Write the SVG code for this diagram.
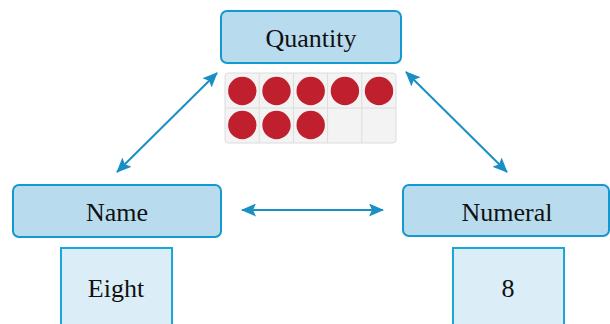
<svg xmlns="http://www.w3.org/2000/svg" width="610" height="324" viewBox="0 0 610 324">
<style>
.hdr{fill:#b8dcee;stroke:#1399cf;stroke-width:2}
.val{fill:#dbeef8;stroke:#1aa6d8;stroke-width:2}
.t{font-family:"Liberation Serif","Times New Roman",serif;font-size:26px;fill:#111;text-anchor:middle}
.dot{fill:#c0202e}
.arr{stroke:#1a8fc4;stroke-width:2;fill:none;marker-start:url(#ah);marker-end:url(#ah)}
</style>
<defs>
<marker id="ah" viewBox="0 0 15 13" refX="14" refY="6.5" markerWidth="15" markerHeight="13" markerUnits="userSpaceOnUse" orient="auto-start-reverse">
<path d="M0,0 L15,6.5 L0,13 L3,6.5 Z" fill="#1a8fc4"/>
</marker>
</defs>
<g id="connectors">
<line class="arr" x1="117" y1="172" x2="217" y2="73"/>
<line class="arr" x1="406" y1="72" x2="507" y2="172"/>
<line class="arr" x1="242" y1="210" x2="383" y2="210"/>
</g>
<g id="quantity">
<rect class="hdr" x="221" y="11" width="180" height="52" rx="6"/>
<text class="t" x="311" y="47">Quantity</text>
</g>
<g id="ten-frame">
<rect x="225" y="73" width="171" height="70" rx="3" fill="#f3f3f3" stroke="#dcdcdc"/>
<line x1="225" y1="108" x2="396" y2="108" stroke="#dcdcdc"/>
<line x1="259.2" y1="73" x2="259.2" y2="143" stroke="#dcdcdc"/>
<line x1="293.4" y1="73" x2="293.4" y2="143" stroke="#dcdcdc"/>
<line x1="327.6" y1="73" x2="327.6" y2="143" stroke="#dcdcdc"/>
<line x1="361.8" y1="73" x2="361.8" y2="143" stroke="#dcdcdc"/>
<circle class="dot" cx="242.3" cy="91" r="14.2"/>
<circle class="dot" cx="276.5" cy="91" r="14.2"/>
<circle class="dot" cx="310.7" cy="91" r="14.2"/>
<circle class="dot" cx="344.9" cy="91" r="14.2"/>
<circle class="dot" cx="379" cy="91" r="14.2"/>
<circle class="dot" cx="242.3" cy="125" r="14.2"/>
<circle class="dot" cx="276.5" cy="125" r="14.2"/>
<circle class="dot" cx="310.7" cy="125" r="14.2"/>
</g>
<g id="name">
<rect class="hdr" x="13" y="185" width="208" height="52" rx="6"/>
<text class="t" x="117" y="221">Name</text>
</g>
<g id="eight">
<rect class="val" x="61" y="248" width="111" height="82"/>
<text class="t" x="116" y="297">Eight</text>
</g>
<g id="numeral">
<rect class="hdr" x="403" y="185" width="206" height="51" rx="6"/>
<text class="t" x="507" y="221">Numeral</text>
</g>
<g id="eight-numeral">
<rect class="val" x="453" y="248" width="111" height="82"/>
<text class="t" x="508" y="297">8</text>
</g>
</svg>
